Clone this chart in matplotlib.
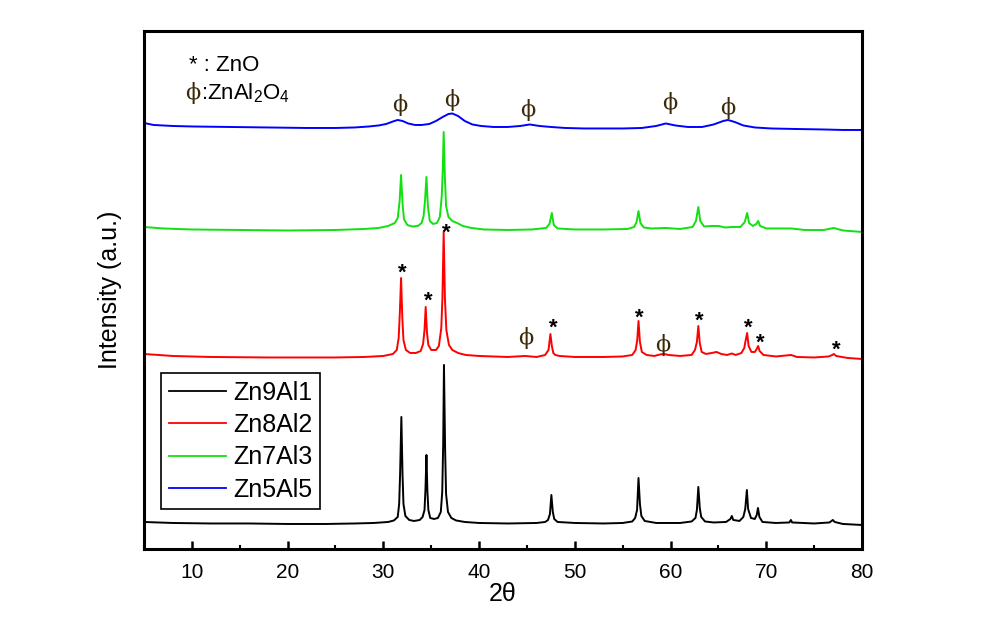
import matplotlib
matplotlib.use("Agg")
import matplotlib.pyplot as plt

plt.rcParams['font.family'] = ['Liberation Sans', 'DejaVu Sans']
plt.rcParams['mathtext.fontset'] = 'custom'
plt.rcParams['mathtext.rm'] = 'Liberation Sans'
plt.rcParams['mathtext.it'] = 'Liberation Sans:italic'

# XRD patterns (2theta, intensity above own baseline, a.u.)
zn9al1_tth = [5, 8, 12, 16, 20, 24, 27, 29, 30.5, 31.1, 31.5, 31.65, 31.75, 31.88, 32.0, 32.1, 32.3, 32.7,
              33.2, 33.8, 34.1, 34.3, 34.4, 34.5, 34.6, 34.7, 34.9, 35.3, 35.7, 36.0, 36.15, 36.25, 36.33,
              36.45, 36.55, 36.75, 37.1, 37.6, 38.5, 40, 43, 46, 46.9, 47.2, 47.4, 47.55, 47.7, 47.85,
              48.2, 50, 53, 55, 56.0, 56.3, 56.5, 56.65, 56.8, 56.95, 57.3, 58.5, 61, 62.2, 62.6, 62.75,
              62.9, 63.05, 63.2, 63.6, 64.5, 65.8, 66.25, 66.4, 66.55, 67.2, 67.6, 67.8, 67.97, 68.1,
              68.4, 68.8, 69.0, 69.13, 69.28, 69.6, 71, 72.4, 72.57, 72.7, 75, 76.6, 76.95, 77.15, 78, 80]
zn9al1_int = [2, 1, 0.5, 0.5, 0, 0, 0.5, 1, 2, 3.5, 7, 20, 50, 107, 50, 20, 8, 4,
              3, 4, 7, 14, 35, 69, 33, 14, 6, 5, 6, 12, 32, 80, 159,
              75, 30, 12, 6, 3.5, 2, 1, 0.5, 1, 2, 4, 10, 29, 12, 5,
              2, 1, 0.5, 1, 2.5, 6, 14, 46, 20, 8, 3, 1, 1, 2.5, 6, 14,
              37, 16, 7, 2.5, 1.5, 2, 5, 8, 4, 3, 7, 15, 34, 15,
              6, 5, 9, 16, 7, 2, 1, 1.5, 4, 1.5, 0.5, 1.5, 4, 2, 0, -1]

zn8al2_tth = [5, 8, 12, 18, 25, 28, 30, 31.0, 31.4, 31.6, 31.72, 31.85, 31.98, 32.1, 32.35, 32.8,
              33.4, 33.9, 34.15, 34.3, 34.42, 34.55, 34.7, 35.0, 35.5, 35.8, 36.05, 36.17, 36.3,
              36.43, 36.58, 36.85, 37.2, 37.8, 38.6, 40, 43, 44.8, 46, 46.9, 47.25, 47.45, 47.6,
              47.75, 47.95, 48.4, 50, 53, 55, 56.0, 56.35, 56.52, 56.65, 56.8, 57.0, 57.5, 58.3,
              58.9, 59.3, 59.8, 61, 62.2, 62.55, 62.75, 62.9, 63.05, 63.25, 63.7, 64.3, 64.8, 65.3,
              65.9, 66.4, 66.8, 67.4, 67.7, 67.85, 68.0, 68.15, 68.45, 68.8, 69.0, 69.15, 69.3,
              69.7, 71, 72.6, 73.2, 75, 76.5, 76.9, 77.05, 77.3, 78.5, 80]
zn8al2_int = [4, 2, 1, 0.5, 0.5, 1, 2, 4, 8, 20, 45, 80, 40, 18, 8, 5,
              5, 7, 14, 28, 51, 26, 13, 8, 8, 12, 30, 60, 126,
              60, 28, 13, 8, 5, 3, 2, 1, 2, 1, 3, 8, 24, 12,
              5, 3, 2, 1, 1, 1.5, 3, 8, 18, 37, 16, 6, 3, 2,
              3.5, 4, 3, 2, 3, 8, 16, 32, 15, 6, 4, 5, 6, 4,
              3, 4.5, 3, 5, 10, 18, 25, 12, 6, 6, 9, 12, 7,
              3, 1.5, 3, 1, 0.5, 1.5, 3, 4, 2, 0, -1]

zn7al3_tth = [5, 7, 10, 15, 20, 25, 28, 29.5, 30.5, 31.2, 31.5, 31.7, 31.85, 32.0, 32.15, 32.5,
              33.0, 33.6, 34.0, 34.2, 34.35, 34.5, 34.65, 34.85, 35.2, 35.6, 35.9, 36.1, 36.2,
              36.3, 36.42, 36.55, 36.8, 37.2, 37.7, 38.3, 39.2, 40.5, 43, 45.5, 47.0, 47.35, 47.6,
              47.8, 48.2, 50, 53, 55.5, 56.2, 56.45, 56.65, 56.85, 57.2, 58, 59.5, 61, 62.3, 62.65,
              62.9, 63.1, 63.5, 64.3, 65, 65.7, 66.4, 67.3, 67.75, 68.0, 68.2, 68.6, 68.95, 69.15,
              69.35, 70, 72.6, 74, 76, 77.05, 78, 80]
zn7al3_int = [4, 2.5, 1.5, 1, 0.5, 1, 2, 3, 5, 8, 13, 30, 56, 28, 12, 6,
              4.5, 5, 8, 15, 30, 54, 25, 10, 7, 8, 14, 35, 60,
              99, 55, 25, 14, 10, 8, 5, 3, 1.5, 1, 1.5, 3, 7, 18,
              6, 2.5, 1.5, 1.5, 2, 4, 9, 20, 8, 3.5, 2.5, 3, 2, 4, 10,
              24, 10, 4.5, 5, 5, 3.5, 4, 4, 9, 18, 8, 5, 7, 10,
              5, 2.5, 2.5, 1, 1, 3, 0.5, -1]

zn5al5_tth = [5, 6, 8, 10, 14, 18, 22, 25, 27, 28.5, 29.5, 30.3, 31.0, 31.5, 32.0, 32.6, 33.3,
              34.0, 34.8, 35.5, 36.2, 36.8, 37.2, 37.8, 38.5, 39.3, 40.2, 41.5, 43, 44.3, 45.3,
              46.3, 47.5, 49, 51, 53, 55, 57, 58.5, 59.5, 60.5, 61.8, 63.3, 64.5, 65.5, 66.0,
              66.7, 67.6, 68.8, 70.5, 73, 76, 78, 80]
zn5al5_int = [7, 5, 4, 3.5, 3, 2.5, 2, 2, 2.5, 3.5, 4.5, 6, 8.5, 10, 9, 6.5, 5,
              5, 6, 9, 13, 16, 16.5, 14, 9, 5.5, 4, 3, 3, 4, 5.5,
              4, 3, 2, 1.5, 1.5, 1.5, 2, 4, 6.5, 4.5, 3, 3, 5.5, 9, 10,
              8, 4.5, 2.5, 1.5, 1, 0.5, 0, 0]

labels = ['Zn9Al1', 'Zn8Al2', 'Zn7Al3', 'Zn5Al5']
colors = ['#000000', '#ff0000', '#11e011', '#0000ff']
offsets = [25, 191, 318, 419]

# phase markers
zno_tth = [32.0, 34.7, 36.55, 47.7, 56.7, 63.0, 68.1, 69.4, 77.3]
zno_y = [281, 253, 321, 226, 236, 233, 226, 211, 204]
spinel_tth = [31.75, 37.1, 45.1, 59.9, 66.0, 44.9, 59.2]
spinel_y = [444, 449, 439, 446, 441, 211, 204]

fig = plt.figure(figsize=(9.96, 6.22), dpi=100)
ax = fig.add_axes([0.1446, 0.1174, 0.7209, 0.8328])

series = [(zn9al1_tth, zn9al1_int), (zn8al2_tth, zn8al2_int),
          (zn7al3_tth, zn7al3_int), (zn5al5_tth, zn5al5_int)]
for (t, i), lab, c, off in zip(series, labels, colors, offsets):
    ax.plot(t, [v + off for v in i], color=c, lw=1.4, label=lab)

for t, y in zip(zno_tth, zno_y):
    ax.annotate('*', xy=(t, y), xytext=(0, -3.5), textcoords='offset points',
                ha='center', va='center', fontsize=16, fontweight='bold', color='black')
for t, y in zip(spinel_tth, spinel_y):
    ax.text(t, y, 'ϕ', ha='center', va='center', fontsize=16,
            family=['DejaVu Serif'], color='#3a2a0a')

# phase key, top left
ax.text(9.72, 478, '* : ZnO', ha='left', va='baseline', fontsize=16)
ax.text(10.14, 450, 'ϕ', ha='center', va='baseline', fontsize=16,
        family=['DejaVu Serif'], color='#3a2a0a')
ax.text(11.0, 450, ':ZnAl$_2$O$_4$', ha='left', va='baseline', fontsize=16)

ax.set_xlim(5, 80)
ax.set_ylim(0, 518)
ax.set_xticks(range(10, 81, 10))
ax.set_xticks(range(5, 81, 5), minor=True)
ax.set_yticks([])
ax.tick_params(axis='x', which='major', direction='in', length=6, width=1.8,
               labelsize=15, pad=10, top=False)
ax.tick_params(axis='x', which='minor', direction='in', length=3, width=1.5, top=False)
for s in ax.spines.values():
    s.set_linewidth(2.2)

ax.set_xlabel('2θ', fontsize=18, labelpad=0)
ax.set_ylabel('Intensity (a.u.)', fontsize=18, labelpad=16)

leg = ax.legend(loc='lower left', bbox_to_anchor=(0.0237, 0.077), borderaxespad=0,
                fontsize=18, handlelength=2.3, handletextpad=0.3, labelspacing=0.33,
                borderpad=0.3, fancybox=False, framealpha=1, edgecolor='black')
leg.get_frame().set_linewidth(1.2)
for ln in leg.get_lines():
    ln.set_linewidth(1.3)

fig.savefig('out.png', dpi=100)
